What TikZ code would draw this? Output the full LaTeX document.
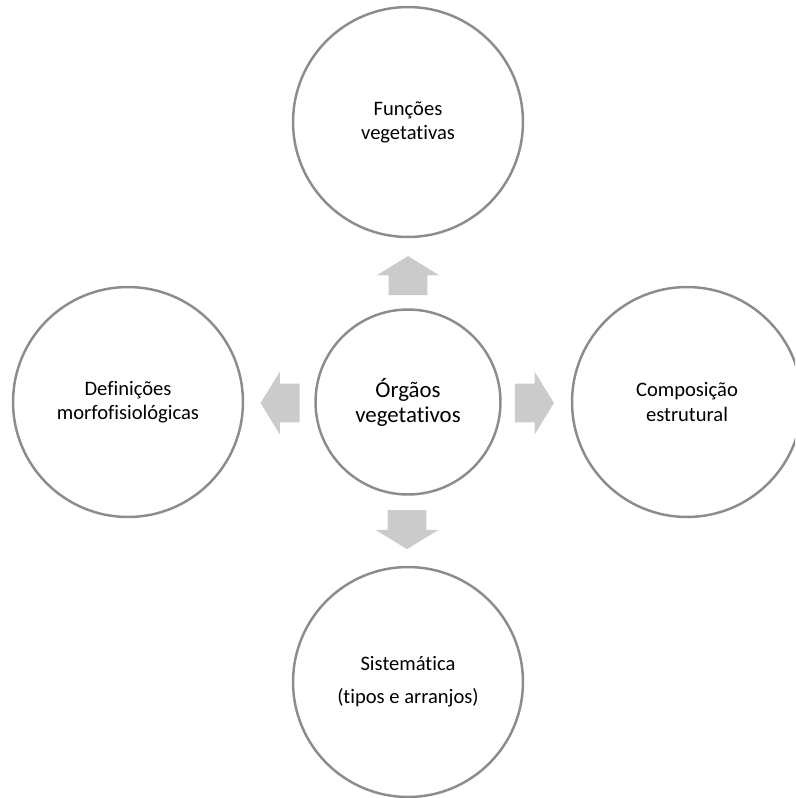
\documentclass[tikz,border=0pt]{standalone}
\usepackage{fontspec}
\setmainfont{Carlito}[Ligatures=NoCommon]
\usetikzlibrary{shapes.arrows}
\definecolor{ringgray}{HTML}{8C8C8C}
\definecolor{arrowgray}{HTML}{CBCBCB}
\tikzset{
  ring/.style={circle,draw=ringgray,line width=1.4pt,minimum size=4.6cm,inner sep=0pt,align=center,font=\fontsize{11.7}{13.7}\selectfont,execute at begin node={\rule{0pt}{13pt}}},
  hub/.style={ring,minimum size=3.7cm,font=\fontsize{13}{14.2}\selectfont},
  blockarrow/.style={single arrow,fill=arrowgray,inner xsep=0pt,inner ysep=0.38cm,minimum height=0.78cm,minimum width=1.24cm,single arrow head extend=0.24cm,single arrow tip angle=117,single arrow head indent=0pt}
}
\begin{document}
\begin{tikzpicture}[x=0.02cm,y=-0.02cm]
 \useasboundingbox (0,0) rectangle (795,798);
 \clip (0,0) rectangle (795,798);
  \draw (408,402) node[hub] (organs) {Órgãos\\vegetativos};
    \draw (408,122) node[ring] (functions) {Funções\\vegetativas};
    \draw (128,402) node[ring] (definitions) {Definições\\morfofisiológicas};
    \draw (687,402) node[ring] (composition) {Composição\\estrutural};
	  \draw (408,682) node[ring] (systematics) {Sistemática\\[5pt](tipos e arranjos)};

     \draw (408,281.5) node[blockarrow,rotate=90] (toFunctions) {};
     \draw (528.5,403) node[blockarrow] (toComposition) {};
     \draw (286,403) node[blockarrow,rotate=180] (toDefinitions) {};
     \draw (407,523.7) node[blockarrow,rotate=-90] (toSystematics) {};
\end{tikzpicture}
\end{document}
